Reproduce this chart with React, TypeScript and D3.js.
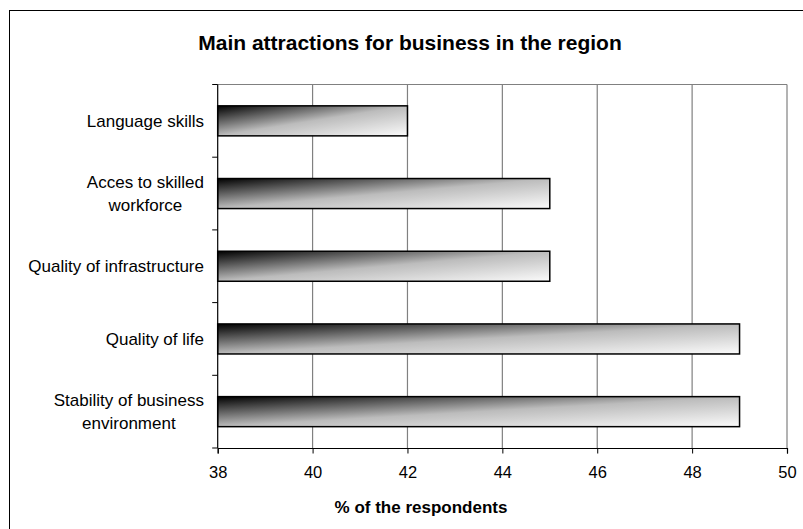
import * as d3 from "d3";
import React, { useEffect, useRef } from "react";

// chart data
const categories = [
  "Language skills",
  "Acces to skilled\nworkforce",
  "Quality of infrastructure",
  "Quality of life",
  "Stability of business\nenvironment",
];
const values = [42, 45, 45, 49, 49];
const xTicks = [38, 40, 42, 44, 46, 48, 50];
const title = "Main attractions for business in the region";
const xTitle = "% of the respondents";

const W = 803;
const H = 529;
const FONT = "Arial, 'Liberation Sans', sans-serif";

const BarChart: React.FC = () => {
  const ref = useRef<SVGSVGElement | null>(null);

  useEffect(() => {
    if (!ref.current) return;
    const svg = d3.select(ref.current);
    svg.selectAll("*").remove();

    // plot area
    const left = 217.7;
    const right = 787;
    const top = 84.5;
    const bottom = 448;

    const x = d3.scaleLinear().domain([38, 50]).range([left, right]);
    const y = d3
      .scaleBand()
      .domain(categories)
      .range([top, bottom])
      .paddingInner(0.587)
      .paddingOuter(0.2935);

    // gradient for bars
    const grad = svg
      .append("defs")
      .append("linearGradient")
      .attr("id", "barGrad")
      .attr("x1", 0)
      .attr("y1", 0)
      .attr("x2", 1)
      .attr("y2", 1);
    grad.append("stop").attr("offset", 0).attr("stop-color", "#000000");
    grad.append("stop").attr("offset", 0.5).attr("stop-color", "#bcbcbc");
    grad.append("stop").attr("offset", 1).attr("stop-color", "#fbfbfb");

    // background + outer border
    svg.append("rect").attr("width", W).attr("height", H).attr("fill", "#fff");
    svg
      .append("rect")
      .attr("x", 9.5)
      .attr("y", 10.5)
      .attr("width", 820)
      .attr("height", 540)
      .attr("fill", "none")
      .attr("stroke", "#000")
      .attr("stroke-width", 1);

    // gridlines
    svg
      .append("g")
      .selectAll("line")
      .data(xTicks.slice(1))
      .enter()
      .append("line")
      .attr("x1", (d) => x(d))
      .attr("x2", (d) => x(d))
      .attr("y1", top)
      .attr("y2", bottom)
      .attr("stroke", "#808080")
      .attr("stroke-width", 1.2);
    svg
      .append("line")
      .attr("x1", left)
      .attr("x2", right)
      .attr("y1", top)
      .attr("y2", top)
      .attr("stroke", "#808080")
      .attr("stroke-width", 1.2);

    // bars
    svg
      .append("g")
      .selectAll("rect")
      .data(values)
      .enter()
      .append("rect")
      .attr("x", x(38))
      .attr("y", (_d, i) => y(categories[i])!)
      .attr("width", (d) => x(d) - x(38))
      .attr("height", y.bandwidth())
      .attr("fill", "url(#barGrad)")
      .attr("stroke", "#000")
      .attr("stroke-width", 1.5);

    // left axis
    const step = y.step();
    const bounds = d3.range(categories.length + 1).map((i) => top + i * step);
    svg
      .append("line")
      .attr("x1", left)
      .attr("x2", left)
      .attr("y1", top)
      .attr("y2", bottom)
      .attr("stroke", "#000")
      .attr("stroke-width", 1.2);
    svg
      .append("g")
      .selectAll("line")
      .data(bounds)
      .enter()
      .append("line")
      .attr("x1", left - 5.5)
      .attr("x2", left)
      .attr("y1", (d) => d)
      .attr("y2", (d) => d)
      .attr("stroke", "#000")
      .attr("stroke-width", 1);

    // category labels, lines centred, block right aligned
    const labelRight = 204;
    const lineH = 22.6;
    categories.forEach((c) => {
      const lines = c.split("\n");
      const cy = y(c)! + y.bandwidth() / 2;
      const g = svg.append("g");
      lines.forEach((ln, j) => {
        g.append("text")
          .attr("x", 0)
          .attr("y", cy + (j - (lines.length - 1) / 2) * lineH)
          .attr("dy", "0.35em")
          .attr("text-anchor", "middle")
          .style("font-family", FONT)
          .style("font-size", "17px")
          .attr("fill", "#000")
          .text(ln);
      });
      const bb = (g.node() as SVGGElement).getBBox();
      g.attr("transform", `translate(${labelRight - bb.width / 2},0)`);
    });

    // bottom axis
    const xAxis = svg
      .append("g")
      .attr("transform", `translate(0,${bottom})`)
      .call(
        d3
          .axisBottom(x)
          .tickValues(xTicks)
          .tickSize(5.5)
          .tickPadding(13)
          .tickFormat(d3.format("d"))
      );
    xAxis.select(".domain").attr("stroke", "#000").attr("stroke-width", 1.2);
    xAxis.selectAll(".tick line").attr("stroke", "#000");
    xAxis
      .selectAll("text")
      .style("font-family", FONT)
      .style("font-size", "16.5px")
      .attr("fill", "#000");

    // titles
    svg
      .append("text")
      .attr("x", 410)
      .attr("y", 43)
      .attr("dy", "0.35em")
      .attr("text-anchor", "middle")
      .style("font-family", FONT)
      .style("font-size", "21px")
      .style("font-weight", "bold")
      .text(title);

    svg
      .append("text")
      .attr("x", 421)
      .attr("y", 507)
      .attr("dy", "0.35em")
      .attr("text-anchor", "middle")
      .style("font-family", FONT)
      .style("font-size", "17px")
      .style("font-weight", "bold")
      .text(xTitle);
  }, []);

  return <svg ref={ref} width={W} height={H} style={{ display: "block" }}></svg>;
};

export default function App() {
  return (
    <div style={{ position: "absolute", left: 0, top: 0 }}>
      <BarChart />
    </div>
  );
}
